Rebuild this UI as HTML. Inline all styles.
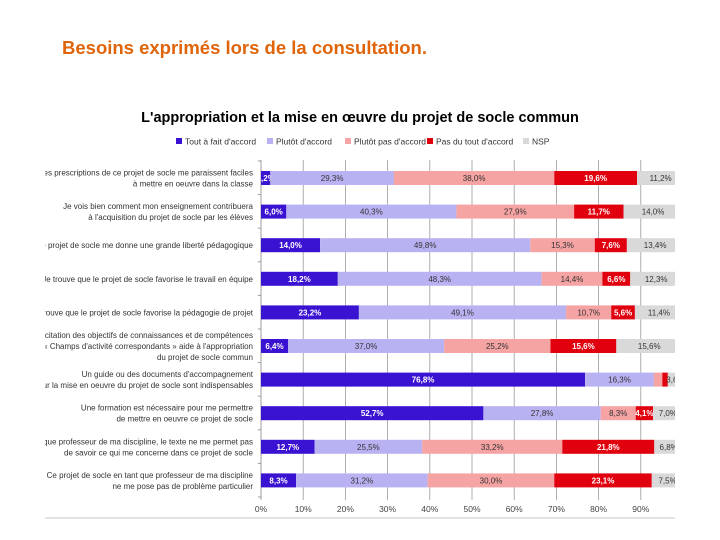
<!DOCTYPE html>
<html><head><meta charset="utf-8"><style>
body{margin:0;background:#fff;width:720px;height:540px;overflow:hidden;font-family:"Liberation Sans",sans-serif}
#h{position:absolute;left:62px;top:37px;font-size:18.5px;color:#e0640a;font-weight:bold;letter-spacing:0px}
svg{position:absolute;left:0;top:0}
</style></head><body>
<div id="h">Besoins exprimés lors de la consultation.</div>
<svg id="c" width="720" height="540"></svg>
<script>
const categories=[
["Les prescriptions de ce projet de socle me paraissent faciles","à mettre en oeuvre dans la classe"],
["Je vois bien comment mon enseignement contribuera","à l'acquisition du projet de socle par les élèves"],
["Le projet de socle me donne une grande liberté pédagogique"],
["Je trouve que le projet de socle favorise le travail en équipe"],
["Je trouve que le projet de socle favorise la pédagogie de projet"],
["L'explicitation des objectifs de connaissances et de compétences","dans les « Champs d'activité correspondants » aide à l'appropriation","du projet de socle commun"],
["Un guide ou des documents d'accompagnement","pour la mise en oeuvre du projet de socle sont indispensables"],
["Une formation est nécessaire pour me permettre","de mettre en oeuvre ce projet de socle"],
["En tant que professeur de ma discipline, le texte ne me permet pas","de savoir ce qui me concerne dans ce projet de socle"],
["Ce projet de socle en tant que professeur de ma discipline","ne me pose pas de problème particulier"]];
const seriesNames=["Tout à fait d'accord","Plutôt d'accord","Plutôt pas d'accord","Pas du tout d'accord","NSP"];
const toutAFait=[2.2,6.0,14.0,18.2,23.2,6.4,76.8,52.7,12.7,8.3];
const plutot=[29.3,40.3,49.8,48.3,49.1,37.0,16.3,27.8,25.5,31.2];
const plutotPas=[38.0,27.9,15.3,14.4,10.7,25.2,2.0,8.3,33.2,30.0];
const pasDuTout=[19.6,11.7,7.6,6.6,5.6,15.6,1.3,4.1,21.8,23.1];
const nsp=[11.2,14.0,13.4,12.3,11.4,15.6,3.6,7.0,6.8,7.5];
const ticks=[0,10,20,30,40,50,60,70,80,90];
const series=[toutAFait,plutot,plutotPas,pasDuTout,nsp];
const colors=["#3a12d2","#b9b2f2","#f5a3a3","#e0000e","#d9d9d9"];
const txtCol=["#fff","#333","#333","#fff","#333"];
const NS="http://www.w3.org/2000/svg";
const svg=document.getElementById('c');
const x=v=>261+v*4.22;
const rowY=i=>178+i*33.6;
function mk(t,a,p){const e=document.createElementNS(NS,t);for(const k in a)e.setAttribute(k,a[k]);(p||svg).appendChild(e);return e;}
const clip=mk('clipPath',{id:'cl'});mk('rect',{x:45,y:90,width:630,height:440},clip);
const g=mk('g',{'clip-path':'url(#cl)'});


mk('line',{x1:45,y1:518,x2:675,y2:518,stroke:'#e4e4e4','stroke-width':2},g);
let t=mk('text',{x:360,y:122,'text-anchor':'middle','font-size':14.5,'font-weight':'bold',fill:'#000'},g);
t.textContent="L'appropriation et la mise en œuvre du projet de socle commun";


const lx=[176,267,345,427,523];
seriesNames.forEach((n,k)=>{
 const lg=mk('g',{},g);
 
 
 mk('rect',{x:lx[k],y:138,width:6,height:6,fill:colors[k]},lg);
 const tt=mk('text',{x:lx[k]+9,y:144.5,'font-size':8.5,fill:'#333'},lg);tt.textContent=n;
});
ticks.forEach(v=>{
 const l=mk('line',{x1:x(v),y1:160,x2:x(v),y2:500,stroke:'#9a9a9a','stroke-width':0.8},g);
 
 
 const tt=mk('text',{x:x(v),y:512,'text-anchor':'middle','font-size':8.5,fill:'#444'},g);tt.textContent=v+'%';
 
 
});
for(let i=0;i<=10;i++){mk('line',{x1:258,y1:161+i*33.6,x2:261,y2:161+i*33.6,stroke:'#999'},g);}
mk('line',{x1:261,y1:160,x2:261,y2:500,stroke:'#999','stroke-width':0.8},g);
categories.forEach((c,i)=>{
 const y=rowY(i);
 c.forEach((ln,j)=>{
  const tt=mk('text',{x:253,y:y+3-(c.length-1)*5.5+j*11,'text-anchor':'end','font-size':8,fill:'#333'},g);tt.textContent=ln;
  
  
 });
 let acc=0;
 series.forEach((s,k)=>{
  const v=s[i];
  const r=mk('rect',{x:x(acc),y:y-7,width:v*4.22,height:14,fill:colors[k]},g);
  
  
  if(v>=2.2){const tt=mk('text',{x:x(acc+v/2),y:y+3,'text-anchor':'middle','font-size':8,'font-weight':(k==0||k==3)?'bold':'normal',fill:txtCol[k]},g);
   tt.textContent=v.toFixed(1).replace('.',',')+'%';}
  acc+=v;
 });
});
</script>
</body></html>
